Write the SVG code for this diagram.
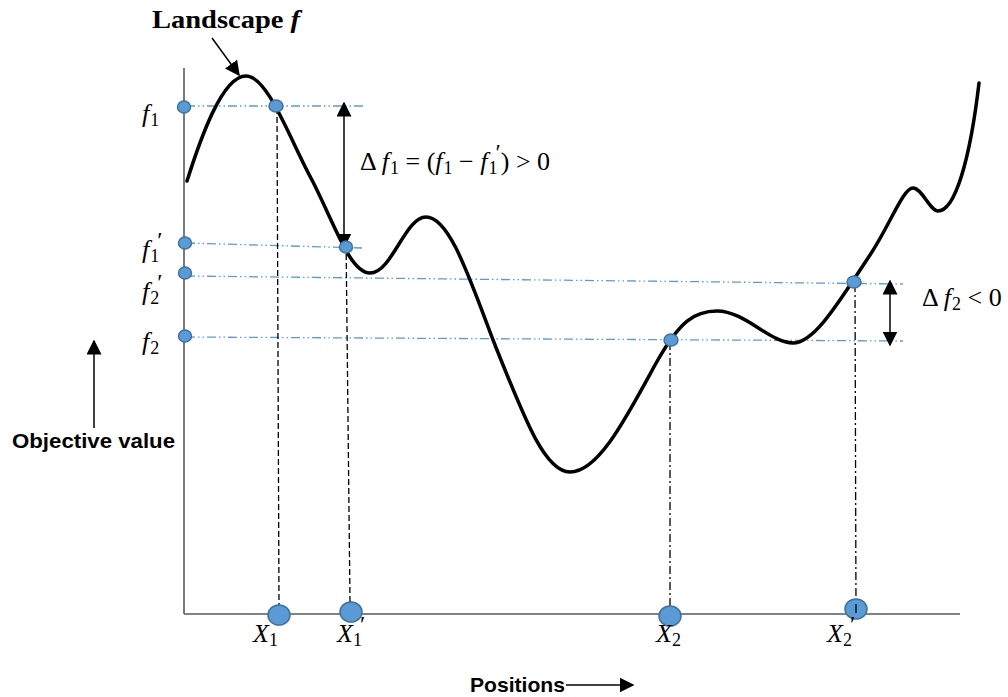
<svg xmlns="http://www.w3.org/2000/svg" width="1008" height="697" viewBox="0 0 1008 697">
<defs>
<style>
.axis{stroke:#595959;stroke-width:1.6;fill:none}
.curve{stroke:#000;stroke-width:3.5;fill:none;stroke-linecap:round}
.hline{stroke:#5b9bd5;stroke-width:1.3;stroke-dasharray:9 3 1.5 3 1.5 3;fill:none}
.vdash{stroke:#000;stroke-width:1.3;stroke-dasharray:6 3;fill:none}
.vdd{stroke:#000;stroke-width:1.3;stroke-dasharray:8 3 2 3;fill:none}
.dot{fill:#5b9bd5;stroke:#41719c;stroke-width:1.5}
.arr{stroke:#000;stroke-width:1.5;fill:none}
.math{font-family:"Liberation Serif",serif;font-size:26px;fill:#000}
.it{font-style:italic}
.sub{font-size:18px}
.pr{font-size:24px}
.bold{font-family:"Liberation Sans",sans-serif;font-weight:bold;font-size:21px;fill:#000}
.title{font-family:"Liberation Serif",serif;font-weight:bold;font-size:26px;fill:#000}
</style>
<marker id="ah2" viewBox="0 0 10 10" refX="9" refY="5" markerWidth="15" markerHeight="15" markerUnits="userSpaceOnUse" orient="auto-start-reverse">
<path d="M0,0 L10,5 L0,10 z" fill="#000"/>
</marker>
</defs>
<rect width="1008" height="697" fill="#fff"/>

<g id="axes">
<line class="axis" x1="184" y1="68" x2="184" y2="614"/>
<line class="axis" x1="184" y1="614" x2="960" y2="614"/>
</g>

<g id="connectors">
<line class="hline" x1="186" y1="106" x2="365" y2="106"/>
<line class="hline" x1="186" y1="243" x2="362" y2="248"/>
<line class="hline" x1="186" y1="276" x2="903" y2="284"/>
<line class="hline" x1="186" y1="337" x2="903" y2="341"/>
<line class="vdash" x1="277" y1="108" x2="279" y2="605"/>
<line class="vdash" x1="346" y1="236" x2="350" y2="602"/>
<line class="vdd" x1="670" y1="342" x2="670" y2="606"/>
<line class="vdd" x1="855" y1="284" x2="856" y2="610"/>
<line class="arr" x1="344" y1="103" x2="344" y2="247" marker-start="url(#ah2)" marker-end="url(#ah2)"/>
<line class="arr" x1="890" y1="281" x2="890" y2="345" marker-start="url(#ah2)" marker-end="url(#ah2)"/>
<line class="arr" x1="94" y1="428" x2="94" y2="341" marker-end="url(#ah2)"/>
<line class="arr" x1="566" y1="685" x2="633" y2="685" marker-end="url(#ah2)"/>
<line class="arr" x1="212" y1="38" x2="239" y2="75" marker-end="url(#ah2)"/>
</g>

<g id="landscape">
<path class="curve" d="M187,181 C200,140 222,76 246,76 C268,76 290,140 312,180 C335,225 350,273 370,273 C392,273 405,217 426,217 C450,217 470,280 495,345 C525,420 545,472 570,472 C598,472 625,420 655,365 C680,320 695,311 717,311 C745,311 770,343 793,343 C815,343 840,300 870,255 C890,225 903,188 913,188 C922,188 930,211 938,211 C955,211 970,160 979,83"/>
</g>

<g id="points">
<ellipse class="dot" cx="184" cy="107" rx="6.5" ry="6"/>
<ellipse class="dot" cx="185" cy="243" rx="6.5" ry="6"/>
<ellipse class="dot" cx="185" cy="273" rx="6.5" ry="6"/>
<ellipse class="dot" cx="185" cy="336" rx="6.5" ry="6"/>
<ellipse class="dot" cx="276" cy="106" rx="7" ry="6"/>
<ellipse class="dot" cx="346" cy="247" rx="6.5" ry="6"/>
<ellipse class="dot" cx="671" cy="340" rx="7" ry="6"/>
<ellipse class="dot" cx="854" cy="282" rx="7" ry="6"/>
<ellipse class="dot" cx="279" cy="615" rx="11" ry="10"/>
<ellipse class="dot" cx="351" cy="612" rx="11" ry="10"/>
<ellipse class="dot" cx="670" cy="616" rx="11" ry="10"/>
<ellipse class="dot" cx="856" cy="609" rx="11" ry="10"/>
<line x1="856" y1="604" x2="856" y2="613" stroke="#000" stroke-width="1.3"/>
</g>

<g id="labels">
<text class="title" x="152" y="28" textLength="148" lengthAdjust="spacingAndGlyphs">Landscape <tspan font-style="italic">f</tspan></text>
<text class="bold" x="12" y="448" textLength="163" lengthAdjust="spacingAndGlyphs">Objective value</text>
<text class="bold" x="470" y="692" textLength="95" lengthAdjust="spacingAndGlyphs">Positions</text>

<text class="math" x="142" y="122"><tspan class="it">f</tspan><tspan class="sub" dx="1" dy="4">1</tspan></text>
<text class="math" x="142" y="258"><tspan class="it">f</tspan><tspan class="sub" dx="1" dy="4">1</tspan><tspan class="pr" dx="-2" dy="-14">′</tspan></text>
<text class="math" x="142" y="300"><tspan class="it">f</tspan><tspan class="sub" dx="1" dy="4">2</tspan><tspan class="pr" dx="-2" dy="-14">′</tspan></text>
<text class="math" x="142" y="350"><tspan class="it">f</tspan><tspan class="sub" dx="1" dy="4">2</tspan></text>

<text class="math" x="360" y="170">Δ <tspan class="it">f</tspan><tspan class="sub" dx="1" dy="4">1</tspan><tspan dy="-4"> = (</tspan><tspan class="it">f</tspan><tspan class="sub" dx="1" dy="4">1</tspan><tspan dy="-4"> − </tspan><tspan class="it">f</tspan><tspan class="sub" dx="1" dy="4">1</tspan><tspan class="pr" dx="-2" dy="-14">′</tspan><tspan dy="10">) &gt; 0</tspan></text>
<text class="math" x="922" y="306">Δ <tspan class="it">f</tspan><tspan class="sub" dx="1" dy="4">2</tspan><tspan dy="-4"> &lt; 0</tspan></text>

<text class="math" x="253" y="642"><tspan class="it">X</tspan><tspan class="sub" dy="4">1</tspan></text>
<text class="math" x="337" y="642"><tspan class="it">X</tspan><tspan class="sub" dy="4">1</tspan><tspan class="pr" dx="-2" dy="-14">′</tspan></text>
<text class="math" x="656" y="642"><tspan class="it">X</tspan><tspan class="sub" dy="4">2</tspan></text>
<text class="math" x="827" y="642"><tspan class="it">X</tspan><tspan class="sub" dy="4">2</tspan><tspan class="pr" dx="-2" dy="-14">′</tspan></text>
</g>
</svg>
